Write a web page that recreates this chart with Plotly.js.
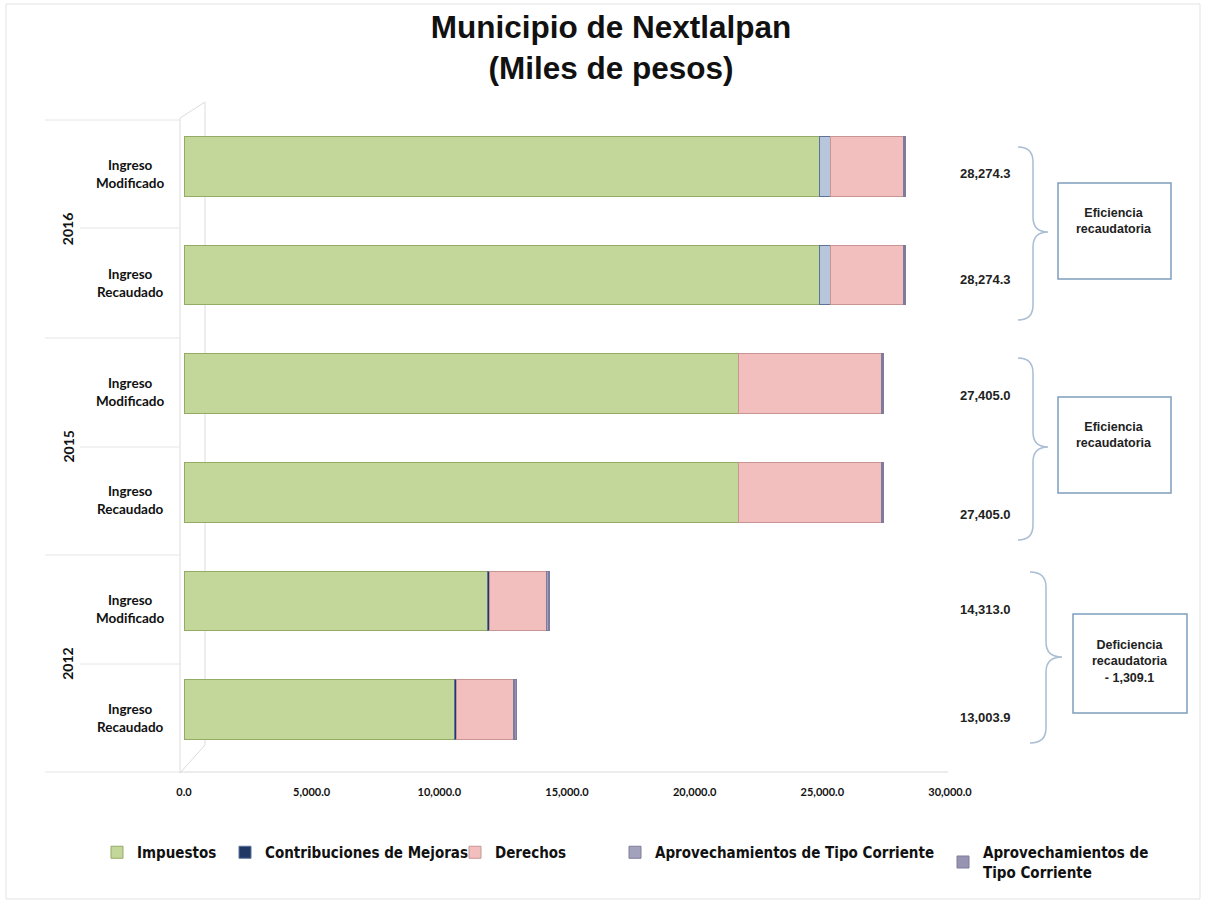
<!DOCTYPE html>
<html><head><meta charset="utf-8">
<script src="https://cdn.plot.ly/plotly-3.0.1.min.js"></script>
<style>body{margin:0;background:#fff}#chart{width:1206px;height:905px}</style>
</head><body><div id="chart"></div>
<script>
// ---------------- DATA ----------------
const years    = ["2012", "2012", "2015", "2015", "2016", "2016"];
const concepts = ["Ingreso Recaudado", "Ingreso Modificado", "Ingreso Recaudado", "Ingreso Modificado", "Ingreso Recaudado", "Ingreso Modificado"];
const impuestos      = [10600.0, 11900.0, 21700.0, 21700.0, 24900.0, 24900.0];
const contribuciones = [60.0, 60.0, 0.0, 0.0, 430.0, 430.0];
const derechos       = [2243.9, 2253.0, 5605.0, 5605.0, 2844.3, 2844.3];
const aprovechamientos1 = [50.0, 50.0, 50.0, 50.0, 50.0, 50.0];
const aprovechamientos2 = [50.0, 50.0, 50.0, 50.0, 50.0, 50.0];
const totals   = [13003.9, 14313.0, 27405.0, 27405.0, 28274.3, 28274.3];
const seriesNames = ["Impuestos", "Contribuciones de Mejoras", "Derechos", "Aprovechamientos de Tipo Corriente", "Aprovechamientos de<br>Tipo Corriente"];
const groupYears = ["2012", "2015", "2016"];
const groupNotes = ["Deficiencia<br>recaudatoria<br>- 1,309.1", "Eficiencia<br>recaudatoria", "Eficiencia<br>recaudatoria"];
const xTicks = [0, 5000, 10000, 15000, 20000, 25000, 30000];

// ---------------- LAYOUT HELPERS ----------------
const L = 184, R = 950, T = 112, B = 764;
const px = p => (p - L) / (R - L);
const py = p => (B - p) / (B - T);
const cats = years.map((y, i) => y + " " + concepts[i]);
const fmt = v => v.toLocaleString("en-US", {minimumFractionDigits: 1, maximumFractionDigits: 1});

const LBL = "Lato, 'Open Sans', sans-serif";
const ARIAL = "'Liberation Sans', Arial, sans-serif";
const NARROW = "'Liberation Sans Narrow', 'DejaVu Sans Condensed', 'Arial Narrow', sans-serif";

const colors = {
  imp: "#C4D79B", impLine: "#93AB62",
  con: ["#1F3864", "#1F3864", "#B7C5DD", "#B7C5DD", "#B7C5DD", "#B7C5DD"], conLine: "#5E729A",
  der: "#F2BEBE", derLine: "#C99494",
  ap1: "#A3A2BD", ap2: "#9694B0"
};

function barTrace(vals, name, color, line, legendId) {
  return {
    type: "bar", orientation: "h", y: cats, x: vals, name: name,
    marker: {color: color, line: {color: line, width: 1}},
    legend: legendId, hoverinfo: "x+name"
  };
}
const data = [
  barTrace(impuestos, seriesNames[0], colors.imp, colors.impLine, "legend"),
  barTrace(contribuciones, seriesNames[1], colors.con, colors.conLine, "legend2"),
  barTrace(derechos, seriesNames[2], colors.der, colors.derLine, "legend3"),
  barTrace(aprovechamientos1, seriesNames[3], colors.ap1, "#7E7C9C", "legend4"),
  barTrace(aprovechamientos2, seriesNames[4], colors.ap2, "#7E7C9C", "legend5")
];

// ---------------- SHAPES ----------------
const shapes = [];
const gline = (x0, y0, x1, y1, c, w) => shapes.push({type: "line", xref: "paper", yref: "paper",
  x0: px(x0), y0: py(y0), x1: px(x1), y1: py(y1), line: {color: c || "#DCDCDC", width: w || 1}, layer: "below"});
// outer frame
shapes.push({type: "rect", xref: "paper", yref: "paper", x0: px(6), x1: px(1200), y0: py(4), y1: py(899),
  line: {color: "#E3E3E3", width: 1}, layer: "below"});
// 3D wall
gline(180, 118, 180, 773); gline(180, 118, 205, 102); gline(205, 102, 205, 745); gline(180, 773, 205, 745);
// base axis line
gline(180, 772, 948, 772, "#D9D9D9");
// category dividers at the left
[120, 338, 555, 772].forEach(y => gline(45, y, 180, y, "#E6E6E6"));
[228, 447, 664].forEach(y => gline(80, y, 180, y, "#E6E6E6"));
// braces
function brace(x0, x1, x2, y0, ym, y1) {
  const r = 15;
  const d = `M${px(x0)},${py(y0)} Q${px(x1)},${py(y0)} ${px(x1)},${py(y0 + r)} L${px(x1)},${py(ym - r)} ` +
            `Q${px(x1)},${py(ym)} ${px(x2)},${py(ym)} Q${px(x1)},${py(ym)} ${px(x1)},${py(ym + r)} ` +
            `L${px(x1)},${py(y1 - r)} Q${px(x1)},${py(y1)} ${px(x0)},${py(y1)}`;
  shapes.push({type: "path", xref: "paper", yref: "paper", path: d, line: {color: "#A9BDD3", width: 1.5}});
}
brace(1018, 1033, 1048, 147, 232, 320);
brace(1018, 1033, 1048, 358, 447, 540);
brace(1030, 1046, 1062, 572, 657, 743);
// boxes
const boxes = [[1073, 1187, 614, 713], [1058, 1171, 397, 493], [1058, 1171, 183, 279]];
boxes.forEach(b => shapes.push({type: "rect", xref: "paper", yref: "paper",
  x0: px(b[0]), x1: px(b[1]), y0: py(b[3]), y1: py(b[2]), line: {color: "#7F9DBF", width: 1.5}}));

// ---------------- ANNOTATIONS ----------------
const annotations = [];
// category labels
concepts.forEach((c, i) => annotations.push({xref: "paper", yref: "y", x: px(130), y: cats[i], yshift: -8,
  text: c.replace(" ", "<br>"), showarrow: false, align: "center", xanchor: "center",
  font: {family: LBL, size: 13.5, color: "#111", weight: "bold"}}));
// year labels
groupYears.forEach((y, g) => annotations.push({xref: "paper", yref: "y", x: px(57), y: 2 * g + 0.5, yshift: -9,
  text: y, textangle: -90, showarrow: false, font: {family: LBL, size: 14, color: "#111", weight: "bold"}}));
// totals
const totShift = [0, 0, -14, -4, 4, 1];
totals.forEach((v, i) => annotations.push({xref: "paper", yref: "y", x: px(985), y: cats[i], yshift: -8 + totShift[i],
  text: fmt(v), showarrow: false, xanchor: "center", font: {family: ARIAL, size: 13, color: "#222", weight: "bold"}}));
// box notes
const noteY = [661, 435, 221];
const noteX = [1130, 1114, 1114];
groupNotes.forEach((t, g) => annotations.push({xref: "paper", yref: "paper", x: px(noteX[g]), y: py(noteY[g]),
  text: t, showarrow: false, align: "center", xanchor: "center", yanchor: "middle",
  font: {family: ARIAL, size: 12.5, color: "#222", weight: "bold"}}));

// ---------------- LEGENDS ----------------
function leg(xText) {
  return {orientation: "h", xref: "container", yref: "container", x: (xText - 40) / 1206, xanchor: "left",
    y: 1 - 836 / 905, yanchor: "top",
    bgcolor: "rgba(0,0,0,0)", font: {family: NARROW, size: 15, color: "#111", weight: "bold"}, itemwidth: 30};
}

const layout = {
  width: 1206, height: 905,
  paper_bgcolor: "#FFFFFF", plot_bgcolor: "rgba(0,0,0,0)",
  margin: {l: L, r: 1206 - R, t: T, b: 905 - B, pad: 0},
  title: {text: "Municipio de Nextlalpan<br>(Miles de pesos)", x: 611 / 1206, xanchor: "center",
    y: 1 - 38 / 905, yanchor: "top", font: {family: ARIAL, size: 31.5, color: "#111", weight: "bold"}},
  barmode: "stack", bargap: 0.45, showlegend: true,
  xaxis: {range: [0, 30000], tickvals: xTicks, tickformat: ",.1f", showgrid: false, zeroline: false,
    showline: false, ticks: "", ticklabelstandoff: 20,
    tickfont: {family: LBL, size: 11, color: "#111", weight: "bold"}},
  yaxis: {type: "category", categoryorder: "array", categoryarray: cats, showticklabels: false,
    showgrid: false, zeroline: false, showline: false, ticks: ""},
  shapes: shapes, annotations: annotations,
  legend: leg(137), legend2: leg(265), legend3: leg(495), legend4: leg(655), legend5: leg(983)
};

Plotly.newPlot("chart", data, layout, {displayModeBar: false, staticPlot: true});
</script></body></html>
